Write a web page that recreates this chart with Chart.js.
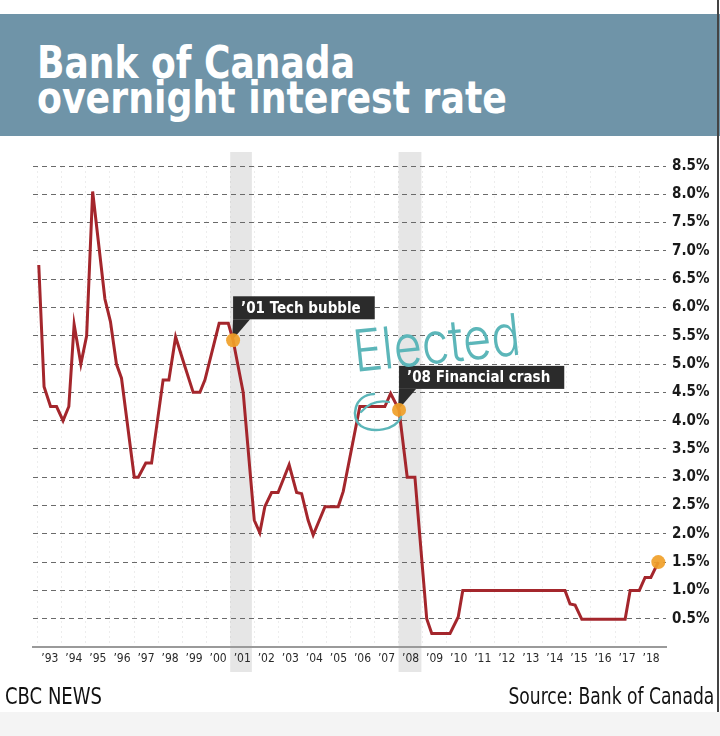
<!DOCTYPE html>
<html><head><meta charset="utf-8">
<script src="https://cdn.jsdelivr.net/npm/chart.js@4.4.1/dist/chart.umd.min.js"></script>
<style>
html,body{margin:0;padding:0;background:#fff;}
body{width:720px;height:736px;position:relative;overflow:hidden;font-family:"DejaVu Sans Condensed","DejaVu Sans",sans-serif;}
#band{position:absolute;left:0;top:14px;width:720px;height:122px;background:#6f94a8;}
.tl{position:absolute;left:37px;color:#fff;font-weight:bold;font-size:45px;white-space:nowrap;transform-origin:0 0;line-height:45px;font-family:"DejaVu Sans Condensed","DejaVu Sans",sans-serif;}
#wrap{position:absolute;left:0;top:136px;width:720px;height:550px;}
.ft{position:absolute;top:685px;font-size:23px;color:#111;white-space:nowrap;line-height:23px;font-family:"Liberation Sans Narrow","DejaVu Sans Condensed",sans-serif;}
#fl{left:5px;transform-origin:0 0;}
#fr{right:6px;transform-origin:100% 0;}
#bottom{position:absolute;left:0;top:712px;width:720px;height:24px;background:#f4f4f4;}
#edge{position:absolute;left:717px;top:0;width:2px;height:712px;background:#444;}
#elected{position:absolute;left:356px;top:322px;color:#5cb6b9;font-size:58px;font-weight:300;line-height:58px;white-space:nowrap;transform-origin:0 100%;font-family:"Inter","Open Sans","DejaVu Sans",sans-serif;}
#loop{position:absolute;left:0;top:0;width:720px;height:736px;pointer-events:none;}
</style>
</head><body>
<div id="band"></div>
<div class="tl" id="t1" style="top:40px">Bank of Canada</div>
<div class="tl" id="t2" style="top:75px">overnight interest rate</div>
<div id="wrap"><canvas id="c" width="720" height="550"></canvas></div>
<div id="elected">Elected</div>
<svg id="loop" viewBox="0 0 720 736"><path d="M374,394 C354,395 350,418 361,426 C372,433 395,431 401,417" fill="none" stroke="#5cb6b9" stroke-width="2.5" stroke-linecap="round"/><path d="M361,412 C368,404 378,400 389,402" fill="none" stroke="#5cb6b9" stroke-width="2.2" stroke-linecap="round"/></svg>
<div class="ft" id="fl">CBC NEWS</div>
<div class="ft" id="fr">Source: Bank of Canada</div>
<div id="bottom"></div>
<div id="edge"></div>
<script>
// ---- data ----
const years = [1993.04,1993.26,1993.53,1993.78,1994.05,1994.29,1994.51,1994.79,1995.03,1995.28,1995.79,1996.02,1996.27,1996.48,1997.01,1997.18,1997.49,1997.73,1998.21,1998.45,1998.73,1999.07,1999.46,1999.74,1999.95,2000.54,2000.92,2001.12,2001.54,2002.0,2002.23,2002.44,2002.72,2002.99,2003.45,2003.76,2003.97,2004.24,2004.45,2004.94,2005.49,2005.70,2006.39,2006.95,2007.43,2007.67,2008.02,2008.36,2008.68,2009.17,2009.38,2010.14,2010.48,2010.67,2014.92,2015.13,2015.34,2015.62,2017.42,2017.63,2018.01,2018.25,2018.49,2018.8];
const rates = [6.75,4.6,4.25,4.25,4.0,4.25,5.7,5.0,5.5,8.05,6.15,5.75,5.0,4.75,3.0,3.0,3.25,3.25,4.72,4.72,5.48,5.02,4.5,4.5,4.72,5.72,5.72,5.42,4.5,2.24,2.02,2.48,2.73,2.73,3.22,2.73,2.71,2.24,1.98,2.48,2.48,2.75,4.25,4.25,4.25,4.48,4.19,3.0,3.0,0.5,0.24,0.24,0.53,1.0,1.0,0.76,0.74,0.49,0.49,1.0,1.0,1.23,1.23,1.5];
const markerYears = [2001.12, 2008.02, 2018.8];
const markerRates = [5.42, 4.19, 1.5];
const calloutLabels = ['\u201901 Tech bubble', '\u201908 Financial crash'];
const shadeStart = [2001.0, 2008.0];
const shadeEnd = [2001.9, 2008.95];
const tickYears = [1993,1994,1995,1996,1997,1998,1999,2000,2001,2002,2003,2004,2005,2006,2007,2008,2009,2010,2011,2012,2013,2014,2015,2016,2017,2018];
const yTickValues = [0,0.5,1,1.5,2,2.5,3,3.5,4,4.5,5,5.5,6,6.5,7,7.5,8,8.5];

function fitWidth(id, w, extra){ const el=document.getElementById(id); const r=el.getBoundingClientRect().width; el.style.transform=(extra||'')+'scaleX('+(w/r)+')'; }
fitWidth('t1', 318); fitWidth('t2', 470); fitWidth('fl', 97); fitWidth('fr', 206); fitWidth('elected', 168, 'rotate(-6deg) ');

const FONT = '"DejaVu Sans Condensed","DejaVu Sans",sans-serif';

const bandsPlugin = {
  id:'bands',
  beforeDraw(chart){
    const {ctx, chartArea, scales:{x}} = chart;
    ctx.save();
    ctx.fillStyle = '#e6e6e6';
    for (let i=0;i<shadeStart.length;i++){
      const a = x.getPixelForValue(shadeStart[i]), b = x.getPixelForValue(shadeEnd[i]);
      ctx.fillRect(a, chartArea.top-14, b-a, chartArea.bottom-chartArea.top+39);
    }
    ctx.restore();
  }
};
const calloutPlugin = {
  id:'callouts',
  beforeDatasetsDraw(chart){
    const {ctx, scales:{x,y}} = chart;
    ctx.save();
    ctx.font = 'bold 15px '+FONT;
    for (let i=0;i<calloutLabels.length;i++){
      const px = x.getPixelForValue(markerYears[i]), py = y.getPixelForValue(markerRates[i]);
      const w = ctx.measureText(calloutLabels[i]).width + 22;
      const top = py-44, h = 23;
      ctx.fillStyle = '#2b2b2b';
      ctx.fillRect(px, top, w, h);
      ctx.beginPath();
      ctx.moveTo(px, top+h); ctx.lineTo(px+17, top+h); ctx.lineTo(px-1, py); ctx.closePath(); ctx.fill();
      ctx.fillStyle = '#fff';
      ctx.textBaseline = 'middle';
      ctx.fillText(calloutLabels[i], px+8, top+h/2+1);
    }
    ctx.restore();
  }
};

new Chart(document.getElementById('c'), {
  data:{
    datasets:[
      {type:'scatter', order:0, data: markerYears.map((v,i)=>({x:v,y:markerRates[i]})), pointRadius:7, pointHoverRadius:7, backgroundColor:'rgba(240,160,40,0.92)', borderWidth:0},
      {type:'line', order:1, data: years.map((v,i)=>({x:v,y:rates[i]})), borderColor:'#a4262c', borderWidth:3, pointRadius:0, tension:0, borderJoinStyle:'miter', fill:false}
    ]
  },
  options:{
    responsive:false, animation:false, events:[],
    layout:{padding:{left:33, top:30, right:0, bottom:0}},
    plugins:{legend:{display:false}, tooltip:{enabled:false}},
    scales:{
      x:{type:'linear', min:1992.8, max:2019.12,
        afterBuildTicks(s){ s.ticks = tickYears.map(v=>({value:v})); },
        afterFit(s){ s.height = 39; },
        ticks:{callback:v=>'\u2019'+String(v).slice(2), labelOffset:12, maxRotation:0, autoSkip:false, padding:5, color:'#2a2a2a', font:{size:12, family:FONT}},
        grid:{color:'rgba(0,0,0,0.07)', lineWidth:1, drawTicks:false},
        border:{display:true, color:'#9a9a9a', width:2, dash:[2,3]}
      },
      y:{position:'right', min:0, max:8.5,
        afterBuildTicks(s){ s.ticks = yTickValues.map(v=>({value:v})); },
        afterFit(s){ s.width = 54; },
        ticks:{callback:v=> v===0 ? '' : v.toFixed(1)+'%', padding:6, color:'#1a1a1a', font:{size:15, weight:'bold', family:FONT}},
        grid:{color:c=> (c.tick && c.tick.value===0) ? 'rgba(0,0,0,0)' : '#6a6a6a', lineWidth:1, drawTicks:false},
        border:{display:false, dash:[5,4]}
      }
    }
  },
  plugins:[bandsPlugin, calloutPlugin]
});
</script>
</body></html>
